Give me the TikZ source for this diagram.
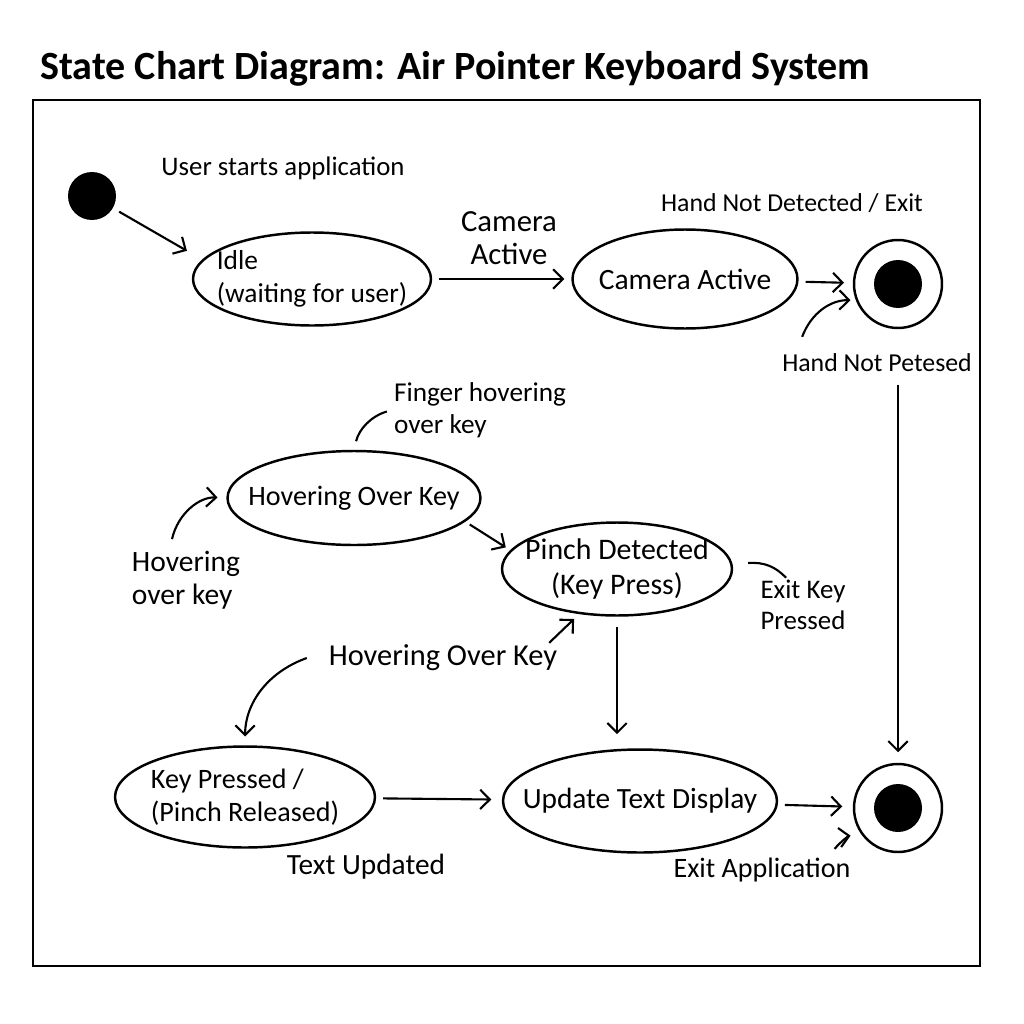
\documentclass[tikz,border=0pt]{standalone}
\usepackage{fontspec}
\setmainfont{Carlito}
\usetikzlibrary{shapes.geometric,arrows.meta}

\tikzset{
  stnode/.style={ellipse, draw, line width=1.4pt, align=center,
    inner xsep=-1.5cm, inner ysep=0pt,
    font=\fontsize{16.5}{19}\selectfont},
  lbl/.style={align=left, inner sep=1pt, font=\fontsize{16}{18.5}\selectfont},
  startstate/.style={circle, fill, minimum size=0.96cm, inner sep=0pt},
  endstate/.style={circle, draw, line width=1.4pt, minimum size=1.76cm, inner sep=0pt,
    path picture={\fill (path picture bounding box.center) circle (0.48cm);}},
  trans/.style={->, line width=1.2pt},
  note/.style={line width=1.2pt},
}

\begin{document}
\begin{tikzpicture}[x=0.02cm, y=-0.02cm, >={Straight Barb[length=5.5pt,width=11pt]}]
\useasboundingbox (0,0) rectangle (1024,1024);
\node[anchor=base west, inner sep=0pt, font=\bfseries\fontsize{22.8}{27}\selectfont] (title) at (40,80) {State Chart Diagram: Air Pointer Keyboard System};
\draw[line width=1.3pt] (33,100) rectangle (980,966);

% states
\node[startstate] (init) at (92,196) {};
\node[stnode, align=left, minimum width=4.76cm, minimum height=1.86cm, font=\fontsize{15.6}{18.5}\selectfont] (idle) at (312,279) {Idle\\(waiting for user)};
\node[stnode, minimum width=4.5cm, minimum height=1.98cm, font=\fontsize{16.8}{19}\selectfont] (camera) at (685,279) {Camera Active};
\node[endstate] (final1) at (898,284) {};
\node[stnode, minimum width=5.06cm, minimum height=1.88cm, font=\fontsize{16}{19}\selectfont] (hover) at (354,498) {Hovering Over Key};
\node[stnode, minimum width=4.6cm, minimum height=1.86cm, font=\fontsize{17}{20}\selectfont] (pinch) at (617,569) {Pinch Detected\\(Key Press)};
\node[stnode, align=left, minimum width=5.2cm, minimum height=2.02cm, font=\fontsize{16}{19}\selectfont] (keypressed) at (245,797) {Key Pressed /\\(Pinch Released)};
\node[stnode, minimum width=5.48cm, minimum height=2.06cm, font=\fontsize{16.7}{19}\selectfont] (update) at (640,801) {Update Text Display};
\node[endstate] (final2) at (898,808) {};

% labels
\node[lbl, font=\fontsize{15.25}{18}\selectfont] (lblstart) at (283,168) {User starts application};
\node[lbl, align=center, font=\fontsize{17.5}{19}\selectfont] (lblcam) at (509,238) {Camera\\Active};
\node[lbl, font=\fontsize{14.7}{18}\selectfont] (lblhnd) at (792,203) {Hand Not Detected / Exit};
\node[lbl, font=\fontsize{14.7}{18}\selectfont] (lblhnp) at (877,363) {Hand Not Petesed};
\node[lbl, font=\fontsize{15.5}{18}\selectfont] (lblfinger) at (480,410) {Finger hovering\\ over key};
\node[lbl, font=\fontsize{16.8}{18.5}\selectfont] (lblhover) at (186,580) {Hovering\\over key};
\node[lbl, font=\fontsize{15.3}{18}\selectfont] (lblexitkey) at (803,605) {Exit Key\\Pressed};
\node[lbl, font=\fontsize{17.3}{19}\selectfont] (lblhovermid) at (443,658) {Hovering Over Key};
\node[lbl, font=\fontsize{16.7}{19}\selectfont] (lbltext) at (366,867) {Text Updated};
\node[lbl] (lblexitapp) at (762,870) {Exit Application};

% transitions
\draw[trans, shorten <=4pt, shorten >=10pt] (init) -- (idle.170);
\draw[trans, shorten <=4pt, shorten >=4pt] (idle) -- (camera);
\draw[trans, shorten <=4pt, shorten >=5pt] (camera) -- (final1);
\draw[trans, shorten >=3pt] ([shift={(0.44cm,0.3cm)}]lblhnp.north west) to[bend left=35] (final1.201);
\draw[trans, shorten <=6pt, shorten >=6pt] (lblhnp.south -| final2.north) -- (final2.north);
\draw[note, shorten <=5pt, shorten >=3pt] (hover.north) to[bend left=30] (lblfinger.west);
\draw[trans, shorten >=5pt] ([shift={(-0.28cm,0.2cm)}]lblhover.north) to[bend left=40] (hover.west);
\draw[trans, shorten <=3pt, shorten >=3pt] (hover.-12) -- (pinch.170);
\draw[note] ([shift={(0.3cm,0.12cm)}]pinch.east) to[bend left=25] ([xshift=-0.34cm]lblexitkey.north);
\draw[trans, shorten <=6pt, shorten >=8pt] (pinch.south) -- (pinch.south |- update.north);
\draw[trans, shorten >=4pt] ([xshift=-0.2cm]lblhovermid.north east) -- (pinch.230);
\draw[trans, shorten >=5pt] ([xshift=-0.4cm]lblhovermid.west) to[bend right=35] (keypressed.north);
\draw[trans, shorten <=4pt, shorten >=6pt] (keypressed) -- (update);
\draw[trans, shorten <=4pt, shorten >=6pt] (update) -- (final2);
\draw[trans, shorten >=6pt] ([shift={(-0.36cm,0.14cm)}]lblexitapp.north east) to[bend left=20] (final2.215);
\end{tikzpicture}
\end{document}
